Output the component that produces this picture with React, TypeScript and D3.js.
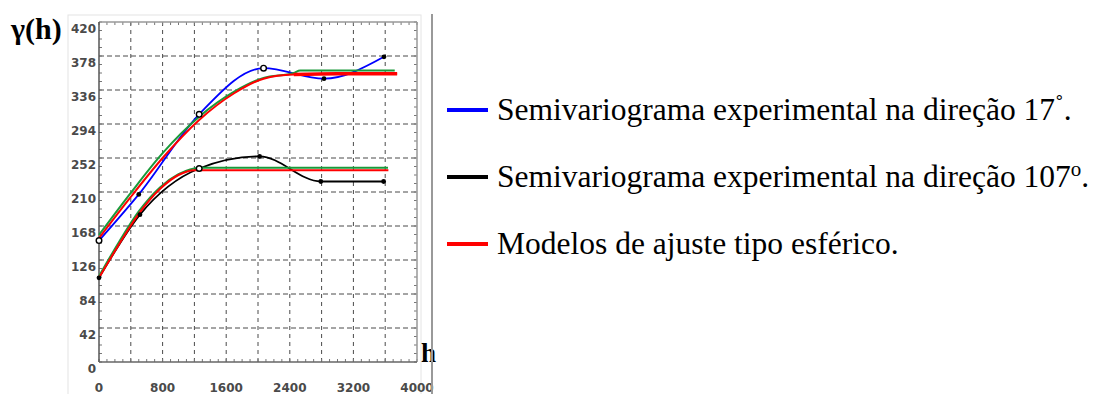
import React from "react";
import * as d3 from "d3";

// lags (h) and semivariance values
const blueH = [0, 500, 1260, 2070, 2830, 3585];
const blueV = [150, 207, 306, 363, 350, 377];
const blueOpen = [true, false, true, true, false, false];

const blackH = [0, 515, 1260, 2020, 2790, 3580];
const blackV = [104, 182, 239, 254, 223, 223];
const blackOpen = [false, false, true, false, false, false];

// fitted spherical models (red) and the second fit (green)
const red17H = [0, 400, 800, 1260, 1700, 2070, 2450, 3000, 3750];
const red17V = [153, 204, 252, 299, 332, 350, 355, 356, 356];
const green17H = [0, 400, 800, 1260, 1700, 2070, 2450, 2530, 3720];
const green17V = [157, 209, 258, 303, 334, 351, 357, 360, 360];

const red107H = [0, 250, 500, 770, 1000, 1200, 3640];
const red107V = [104, 145, 183, 214, 231, 237, 237];
const green107H = [0, 250, 500, 770, 1000, 1270, 3635];
const green107V = [106, 148, 186, 216, 232, 240, 240];

const xTicks = [0, 800, 1600, 2400, 3200, 4000];
const yTicks = [0, 42, 84, 126, 168, 210, 252, 294, 336, 378, 420];

const legendItems = [
  { color: "#0000ff", text: "Semivariograma experimental na direção 17", sup: "˚", supSize: 26, supDy: -7, tail: "." },
  { color: "#000000", text: "Semivariograma experimental na direção 107", sup: "o", supSize: 21, supDy: -11, tail: "." },
  { color: "#ff0000", text: "Modelos de ajuste tipo esférico.", sup: "", supSize: 0, supDy: 0, tail: "" },
];

const x = d3.scaleLinear().domain([0, 4000]).range([99, 417]);
const y = d3.scaleLinear().domain([0, 420]).range([362, 22]);

const mono = d3
  .line<[number, number]>()
  .x((d) => x(d[0]))
  .y((d) => y(d[1]))
  .curve(d3.curveMonotoneX);

const zip = (h: number[], v: number[]) => h.map((d, i) => [d, v[i]] as [number, number]);

const serif = "'Liberation Serif', 'Times New Roman', serif";

export default function App() {
  const minorX = d3.range(0, 4001, 100);
  const minorY = d3.range(0, 420.1, 10.5);
  const tickFont = "'DejaVu Sans', sans-serif";

  const markers = (h: number[], v: number[], open: boolean[]) =>
    h.map((d, i) =>
      open[i] ? (
        <circle key={i} cx={x(d)} cy={y(v[i])} r={2.8} fill="#fff" stroke="#000" strokeWidth={1.4} />
      ) : (
        <circle key={i} cx={x(d)} cy={y(v[i])} r={2.4} fill="#000" />
      )
    );

  return (
    <svg
      width={1101}
      height={394}
      style={{ position: "absolute", left: 0, top: 0, display: "block", background: "#fff" }}
    >
      {/* faint outer frame */}
      <rect x={68} y={15} width={353} height={385} fill="none" stroke="#e4e4e4" strokeWidth={1} />

      {/* grid */}
      {d3.range(400, 4000, 400).map((t) => (
        <line key={"gx" + t} x1={x(t)} x2={x(t)} y1={y(420)} y2={y(0)} stroke="#4a4a4a" strokeWidth={1} strokeDasharray="4,4" />
      ))}
      {yTicks.slice(1, -1).map((t) => (
        <line key={"gy" + t} x1={x(0)} x2={x(4000)} y1={y(t)} y2={y(t)} stroke="#4a4a4a" strokeWidth={1} strokeDasharray="5,3" />
      ))}

      {/* minor ticks on all borders */}
      {minorX.map((t) => (
        <g key={"mx" + t} stroke="#777" strokeWidth={1}>
          <line x1={x(t)} x2={x(t)} y1={y(0)} y2={y(0) - 3} />
          <line x1={x(t)} x2={x(t)} y1={y(420)} y2={y(420) + 3} />
        </g>
      ))}
      {minorY.map((t) => (
        <g key={"my" + t} stroke="#777" strokeWidth={1}>
          <line x1={x(0)} x2={x(0) + 3} y1={y(t)} y2={y(t)} />
          <line x1={x(4000)} x2={x(4000) - 3} y1={y(t)} y2={y(t)} />
        </g>
      ))}

      {/* borders */}
      <line x1={x(0)} x2={x(4000)} y1={y(420)} y2={y(420)} stroke="#999" strokeWidth={1.5} />
      <line x1={x(4000)} x2={x(4000)} y1={y(420)} y2={y(0)} stroke="#999" strokeWidth={1.5} />
      <line x1={x(0)} x2={x(0)} y1={y(420)} y2={y(0)} stroke="#555" strokeWidth={1.5} />
      <line x1={x(0)} x2={x(4000)} y1={y(0)} y2={y(0)} stroke="#666" strokeWidth={1.5} />

      {/* tick labels */}
      {yTicks.map((t) => (
        <text key={"yl" + t} x={96} y={y(t) + 11} textAnchor="end" fontFamily={tickFont} fontWeight="bold" fontSize={12} fill="#4a4a4a">
          {t}
        </text>
      ))}
      {xTicks.map((t) => (
        <text key={"xl" + t} x={x(t)} y={392} textAnchor="middle" fontFamily={tickFont} fontWeight="bold" fontSize={12} fill="#4a4a4a">
          {t}
        </text>
      ))}

      {/* experimental semivariograms */}
      <path d={mono(zip(blueH, blueV)) || ""} fill="none" stroke="#0000ff" strokeWidth={1.8} />
      <path d={mono(zip(blackH, blackV)) || ""} fill="none" stroke="#000" strokeWidth={1.8} />

      {/* fitted models */}
      <path d={mono(zip(green17H, green17V)) || ""} fill="none" stroke="#1a9a3a" strokeWidth={2} />
      <path d={mono(zip(green107H, green107V)) || ""} fill="none" stroke="#1a9a3a" strokeWidth={2} />
      <path d={mono(zip(red17H, red17V)) || ""} fill="none" stroke="#ff0000" strokeWidth={2} />
      <path d={mono(zip(red17H.slice(-3), red17V.slice(-3))) || ""} fill="none" stroke="#ff0000" strokeWidth={3.5} />
      <path d={mono(zip(red107H, red107V)) || ""} fill="none" stroke="#ff0000" strokeWidth={2} />

      {markers(blueH, blueV, blueOpen)}
      {markers(blackH, blackV, blackOpen)}

      {/* axis titles */}
      <text x={11} y={39} fontFamily={serif} fontWeight="bold" fontSize={30}>
        γ(h)
      </text>
      <text x={421} y={362} fontFamily={serif} fontWeight="bold" fontSize={27}>
        h
      </text>

      {/* separator */}
      <line x1={432} x2={432} y1={14} y2={394} stroke="#999" strokeWidth={2} />

      {/* legend */}
      {legendItems.map((d, i) => {
        const ly = 110 + i * 67;
        return (
          <g key={i}>
            <line x1={447} x2={488} y1={ly} y2={ly} stroke={d.color} strokeWidth={4} />
            <text x={497} y={ly + 10} fontFamily={serif} fontSize={31.5} fill="#000">
              {d.text}
              {d.sup ? (
                <tspan fontSize={d.supSize} dy={d.supDy}>
                  {d.sup}
                </tspan>
              ) : null}
              {d.tail ? <tspan dy={-d.supDy}>{d.tail}</tspan> : null}
            </text>
          </g>
        );
      })}
    </svg>
  );
}
